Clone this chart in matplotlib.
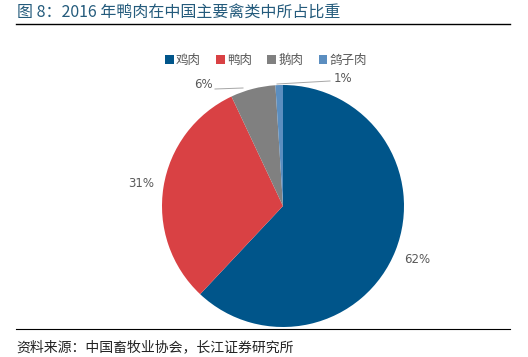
import matplotlib
matplotlib.use("Agg")
import matplotlib.pyplot as plt
from matplotlib.lines import Line2D

plt.rcParams['font.family'] = ['Noto Sans CJK SC', 'DejaVu Sans']

categories = ['鸡肉', '鸭肉', '鹅肉', '鸽子肉']
values = [62, 31, 6, 1]
colors = ['#00558a', '#d94144', '#808080', '#5b8ec0']
title = '图 8：2016 年鸭肉在中国主要禽类中所占比重'
source = '资料来源：中国畜牧业协会，长江证券研究所'

W, H = 528, 357
fig = plt.figure(figsize=(W / 100, H / 100), dpi=100)
fig.patch.set_facecolor('white')

cx, cy, r = 283, 206, 121
ax = fig.add_axes([(cx - r) / W, (H - cy - r) / H, 2 * r / W, 2 * r / H])
wedges, texts, autotexts = ax.pie(
    values, colors=colors, startangle=90, counterclock=False,
    autopct=lambda p: f'{p:.0f}%', pctdistance=1.19,
    wedgeprops=dict(linewidth=0),
    textprops=dict(color='#595959', fontsize=8.5, family=['DejaVu Sans']))
ax.set_xlim(-1, 1)
ax.set_ylim(-1, 1)
ax.set_aspect('equal')
ax.axis('off')

def px(x, y):
    return ((x - cx) / r, (cy - y) / r)

# small-slice labels moved out with leader lines
autotexts[2].set_position(px(203, 85))
autotexts[3].set_position(px(343, 78))
for (x0, y0), (x1, y1) in [((215, 89), (243, 88)), ((277, 84), (330, 81))]:
    a, b = px(x0, y0), px(x1, y1)
    ax.add_line(Line2D([a[0], b[0]], [a[1], b[1]], color='#a6a6a6', lw=0.7, clip_on=False))
for t in autotexts:
    t.set_clip_on(False)

leg = fig.legend(wedges, categories, loc='center', bbox_to_anchor=(266 / W, 1 - 60 / H),
                 ncol=4, frameon=False, fontsize=9, handlelength=0.7, handleheight=0.7,
                 handletextpad=0.2, columnspacing=1.2, labelcolor='#595959')

fig.text(17 / W, 1 - 12 / H, title, fontsize=11.5, color='#245b7c', va='center', ha='left')
fig.add_artist(Line2D([16 / W, 510 / W], [1 - 24 / H, 1 - 24 / H], color='black', lw=1.0))
fig.add_artist(Line2D([16 / W, 510 / W], [1 - 329 / H, 1 - 329 / H], color='black', lw=0.8))
fig.text(16 / W, 1 - 347 / H, source, fontsize=10, color='#222222', va='center', ha='left')

fig.savefig('out.png', dpi=100, facecolor='white')
